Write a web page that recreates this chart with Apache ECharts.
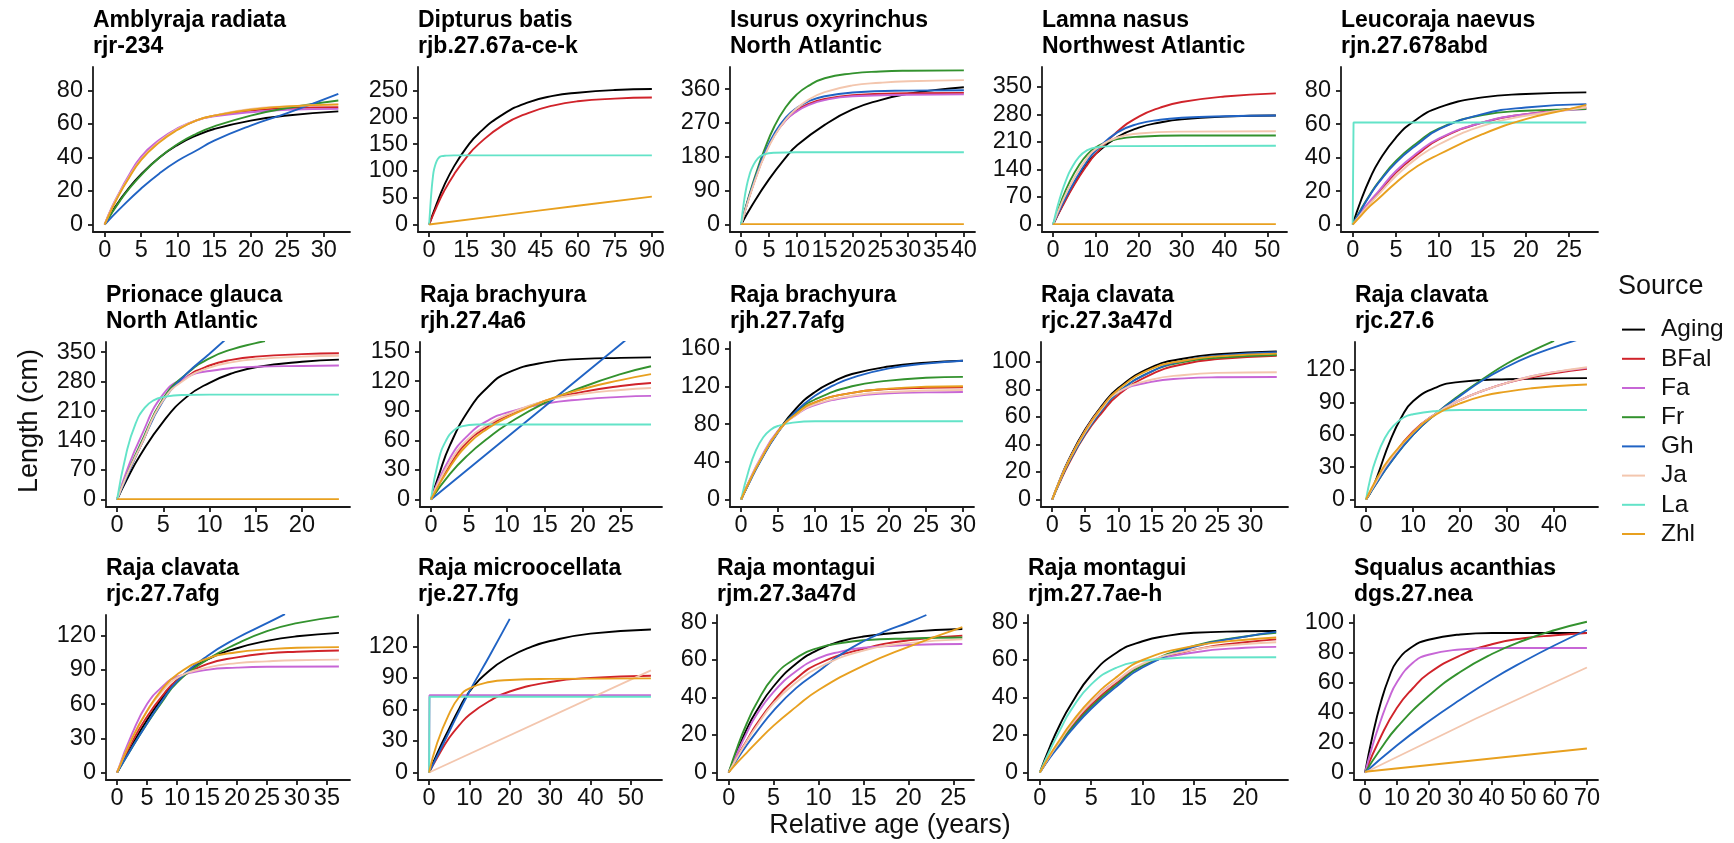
<!DOCTYPE html>
<html>
<head>
<meta charset="utf-8">
<script src="https://cdn.jsdelivr.net/npm/echarts@6.0.0/dist/echarts.min.js"></script>
<style>
  html, body { margin: 0; padding: 0; background: #fff; }
  #chart { width: 1734px; height: 843px; }
</style>
</head>
<body>
<div id="chart"></div>
<script>
// ---- Growth curves: [relative age (years), length (cm)] per stock and source ----

// Amblyraja radiata, rjr-234
const rjr234_Aging = [[0,0],[1,7.5],[2,14],[3,20],[5,30],[7.5,40],[10,47.5],[12.5,53],[15,57],[20,62],[25,65],[32,67.5]];
const rjr234_BFal  = [[0,0],[1,10],[2,18.5],[3,26],[5,40],[7.5,50],[10,57],[12.5,62],[15,65],[20,68],[25,69.5],[32,70]];
const rjr234_Fa    = [[0,0],[1,10.5],[2,19],[3,27],[5,40.5],[7.5,50.5],[10,57.5],[12.5,62],[15,64.5],[20,67],[25,68.5],[32,69]];
const rjr234_Fr    = [[0,0],[1,7],[2,13.5],[3,19.5],[5,29.5],[7.5,40],[10,48],[12.5,54],[15,58.5],[20,65],[25,69.5],[32,74]];
const rjr234_Gh    = [[0,0],[2,9],[5,21.5],[7.5,30.5],[10,38],[12.5,44],[15,50],[20,59],[25,66.5],[32,78]];
const rjr234_Ja    = [[0,0],[1,10],[2,18.5],[3,26],[5,39],[7.5,49.5],[10,57],[12.5,62],[15,65],[20,69],[25,70.5],[32,72]];
const rjr234_Zhl   = [[0,0],[1,9.5],[2,18],[3,25.5],[5,38.5],[7.5,49],[10,56.5],[12.5,62],[15,65],[20,68.5],[25,70.5],[32,71.5]];

// Dipturus batis, rjb.27.67a-ce-k
const rjb_Aging = [[0,0],[3,38],[6,72],[10,108],[15,143],[20,170],[30,206],[40,228],[50,240],[60,246],[75,251],[90,253]];
const rjb_BFal  = [[0,0],[3,33],[6,62],[10,93],[15,125],[20,150],[30,186],[40,208],[50,222],[60,230],[75,235],[90,237]];
const rjb_La    = [[0,0],[0.5,35],[1,65],[1.5,88],[2,103],[3,118],[4,125],[5,127.5],[7,128.5],[10,129],[90,129]];
const rjb_Zhl   = [[0,0],[30,17.5],[60,35],[90,52]];

// Isurus oxyrinchus, North Atlantic
const smaNA_Aging = [[0,0],[2,52],[5,120],[8,178],[10,210],[15,265],[20,306],[25,331],[30,348],[35,358],[40,365]];
const smaNA_BFal  = [[0,0],[1,52],[2,98],[3,140],[4,178],[6,238],[8,278],[10,303],[12,320],[15,334],[20,344],[30,349],[40,350]];
const smaNA_Fa    = [[0,0],[1,53],[2,100],[3,142],[4,180],[6,238],[8,277],[10,301],[12,317],[15,331],[20,341],[30,345],[40,346]];
const smaNA_Fr    = [[0,0],[1,55],[2,105],[3,150],[4,192],[6,262],[8,312],[10,346],[12,368],[15,389],[20,402],[25,407],[30,409],[40,410]];
const smaNA_Gh    = [[0,0],[1,52],[2,100],[3,143],[4,183],[6,243],[8,284],[10,310],[12,327],[15,341],[20,351],[30,356],[40,357]];
const smaNA_Ja    = [[0,0],[1,50],[2,96],[3,138],[4,176],[6,236],[8,279],[10,309],[12,331],[15,352],[20,370],[25,377],[30,381],[40,384]];
const smaNA_La    = [[0,0],[0.5,60],[1,103],[1.5,132],[2,152],[3,176],[4,186],[6,191],[10,192],[40,192]];
const smaNA_Zhl   = [[0,1],[40,1]];

// Lamna nasus, Northwest Atlantic
const porNWA_Aging = [[0,0],[2,45],[5,105],[8,155],[10,180],[15,222],[20,246],[25,259],[30,267],[40,274],[52,277]];
const porNWA_BFal  = [[0,0],[2,43],[5,102],[8,152],[10,180],[15,236],[20,274],[25,297],[30,311],[40,325],[52,333]];
const porNWA_Fr    = [[0,0],[2,62],[4,112],[6,150],[8,178],[10,196],[12,207],[15,217],[20,223],[30,226],[52,226]];
const porNWA_Gh    = [[0,0],[2,48],[5,110],[8,162],[10,188],[15,234],[20,256],[25,266],[30,271],[40,275],[52,277]];
const porNWA_Ja    = [[0,0],[2,55],[5,120],[8,170],[10,192],[15,221],[20,231],[30,236],[52,237]];
const porNWA_La    = [[0,0],[1,45],[2,82],[3,112],[4,137],[6,171],[8,189],[10,196],[15,199],[52,200]];
const porNWA_Zhl   = [[0,1],[52,1]];

// Leucoraja naevus, rjn.27.678abd
const rjn_Aging = [[0,0],[1,15],[2,27.5],[3,37.5],[5,52],[7,61.5],[10,70],[15,76],[20,78],[27,79]];
const rjn_BFal  = [[0,0],[1,7],[2,13],[3,19],[5,31],[7.5,42],[10,51],[15,61],[20,66],[27,70]];
const rjn_Fa    = [[0,0],[1,7.5],[2,14],[3,20],[5,32],[7.5,43],[10,51.5],[15,61],[20,66],[27,69]];
const rjn_Fr    = [[0,0],[1,9.5],[2,18],[3,25.5],[5,38],[7.5,49],[10,57.5],[15,65.5],[20,68],[27,69]];
const rjn_Gh    = [[0,0],[1,9],[2,17.5],[3,25],[5,37],[7.5,48],[10,57],[15,66],[20,70],[27,72]];
const rjn_Ja    = [[0,0],[1,6.5],[2,12.5],[3,18],[5,29],[7.5,40],[10,48],[15,59],[20,65],[27,70]];
const rjn_La    = [[0,0],[0.1,61],[27,61]];
const rjn_Zhl   = [[0,0],[1,5.5],[2,11],[3,15.5],[5,25],[7.5,35],[10,42],[15,54],[20,63],[25,69],[27,71.5]];

// Prionace glauca, North Atlantic
const bshNA_Aging = [[0,0],[1,45],[2.5,105],[5,185],[7.5,243],[10,277],[12.5,300],[15,314],[20,327],[24,332]];
const bshNA_BFal  = [[0,0],[1,55],[2.5,125],[5,238],[7.5,290],[10,318],[12.5,332],[15,339],[20,345],[24,347]];
const bshNA_Fa    = [[0,0],[1,65],[2.5,145],[5,250],[7.5,290],[10,305],[15,315],[20,317],[24,318]];
const bshNA_Fr    = [[0,0],[1,55],[2.5,130],[5,240],[7.5,298],[10,335],[12.5,357],[15,371],[16,376]];
const bshNA_Gh    = [[0,0],[1,52],[2.5,125],[5,235],[7.5,298],[10,346],[12,385]];
const bshNA_Ja    = [[0,0],[1,55],[2.5,125],[5,236],[7.5,287],[10,313],[12.5,326],[15,333],[20,339],[24,341]];
const bshNA_La    = [[0,0],[1,110],[2,180],[3,218],[4,236],[5,243],[7,248],[10,249],[24,249]];
const bshNA_Zhl   = [[0,1],[24,1]];

// Raja brachyura, rjh.27.4a6
const rjh4_Aging = [[0,0],[1,24],[2.5,55],[5,91],[7.5,114],[10,128],[15,139],[20,142.5],[25,143.5],[29,144]];
const rjh4_BFal  = [[0,0],[2.5,35],[5,60],[7.5,74],[10,85],[15,100],[20,109],[25,115],[29,118]];
const rjh4_Fa    = [[0,0],[2.5,42],[5,66],[7.5,80],[10,88],[15,97],[20,101.5],[25,104],[29,105]];
const rjh4_Fr    = [[0,0],[2.5,26],[5,46],[7.5,62],[10,76],[15,98],[20,114],[25,127],[29,135]];
const rjh4_Gh    = [[0,0],[12,75.5],[24,151],[27,170]];
const rjh4_Ja    = [[0,0],[2.5,38],[5,62],[7.5,76],[10,86],[15,100],[20,107],[25,111],[29,113]];
const rjh4_La    = [[0,0],[1,40],[2,60],[3,70],[4,74],[6,76],[10,76],[29,76]];
const rjh4_Zhl   = [[0,0],[2.5,33],[5,57],[7.5,72],[10,83],[15,100],[20,112],[25,121],[29,127]];

// Raja brachyura, rjh.27.7afg
const rjh7_Aging = [[0,0],[1,17],[2.5,40],[5,72],[7.5,97],[10,114],[12.5,125],[15,133],[20,141],[25,145],[30,147]];
const rjh7_BFal  = [[0,0],[1,17],[2.5,40],[5,72],[7.5,91],[10,103],[15,113],[20,117],[25,118.5],[30,119]];
const rjh7_Fa    = [[0,0],[1,18],[2.5,42],[5,73],[7.5,90],[10,100],[15,109],[20,112.5],[25,113.5],[30,114]];
const rjh7_Fr    = [[0,0],[1,17],[2.5,40],[5,72],[7.5,93],[10,106],[15,120],[20,126],[25,129],[30,130]];
const rjh7_Gh    = [[0,0],[1,16],[2.5,39],[5,71],[7.5,94],[10,110],[12.5,121],[15,129],[20,139],[25,144],[30,147]];
const rjh7_Ja    = [[0,0],[1,17.5],[2.5,41],[5,72],[7.5,90],[10,101],[15,110],[20,114],[30,116]];
const rjh7_La    = [[0,0],[1,30],[2,52],[3,66],[4,74],[5,78],[7,81.5],[10,83],[30,83]];
const rjh7_Zhl   = [[0,0],[1,17],[2.5,40],[5,72],[7.5,91],[10,103],[15,113],[20,117.5],[25,119.5],[30,120]];

// Raja clavata, rjc.27.3a47d
const rjc3_Aging = [[0,0],[1,12.5],[2.5,29],[5,51],[7.5,68],[10,81],[15,96],[20,102.5],[25,105.5],[34,107.5]];
const rjc3_BFal  = [[0,0],[1,11],[2.5,26],[5,47],[7.5,63],[10,76],[15,91],[20,98.5],[25,102],[34,104.5]];
const rjc3_Fa    = [[0,0],[1,12],[2.5,28],[5,50],[7.5,67],[10,78],[15,85.5],[20,88],[25,88.8],[34,89]];
const rjc3_Fr    = [[0,0],[1,11.5],[2.5,27],[5,48],[7.5,65],[10,78],[15,93],[20,100],[25,103],[34,105]];
const rjc3_Gh    = [[0,0],[1,11.5],[2.5,27],[5,48],[7.5,65],[10,78],[15,93],[20,101],[25,104.5],[34,107]];
const rjc3_Ja    = [[0,0],[1,12],[2.5,28],[5,49],[7.5,66],[10,78],[15,87],[20,90.5],[25,92],[34,92.5]];
const rjc3_Zhl   = [[0,0],[1,12],[2.5,28],[5,50],[7.5,67],[10,80],[15,95],[20,101],[25,104],[34,106]];

// Raja clavata, rjc.27.6
const rjc6_Aging = [[0,0],[1,7],[2,17],[3,29],[5,53],[7.5,76],[10,91],[15,104],[20,109],[30,111.5],[47,112.5]];
const rjc6_BFal  = [[0,0],[2.5,19],[5,36],[10,63],[15,80],[20,92],[25,101],[30,108],[35,113],[40,117],[47,121]];
const rjc6_Fa    = [[0,0],[2.5,19],[5,36],[10,62],[15,80],[20,92],[25,101],[30,108],[35,114],[40,118],[47,122]];
const rjc6_Fr    = [[0,0],[2.5,17],[5,33],[10,60],[15,80],[20,97],[25,112],[30,126],[35,137],[40,147]];
const rjc6_Gh    = [[0,0],[2.5,17],[5,33],[10,60],[15,80],[20,96],[25,111],[30,123],[35,133],[40,141],[45,148]];
const rjc6_Ja    = [[0,0],[2.5,19],[5,36],[10,62],[15,80],[20,92],[25,101],[30,108],[35,114],[40,118],[47,122.5]];
const rjc6_La    = [[0,0],[1,21],[2,36],[4,57],[6,69],[8,76],[10,79],[15,82],[20,83],[47,83]];
const rjc6_Zhl   = [[0,0],[2.5,21],[5,38],[10,62],[15,79],[20,89],[25,96],[30,100],[35,103],[40,105],[47,106.5]];

// Raja clavata, rjc.27.7afg
const rjc7_Aging = [[0,0],[2.5,24],[5,46],[7.5,65],[10,81],[15,99],[20,109],[25,115.5],[30,119.5],[37,122.5]];
const rjc7_BFal  = [[0,0],[2.5,27],[5,49],[7.5,67],[10,81],[15,95],[20,101],[25,104.5],[30,106],[37,107]];
const rjc7_Fa    = [[0,0],[2.5,34],[5,60],[7.5,75],[10,84],[15,90],[20,92],[25,92.8],[37,93]];
const rjc7_Fr    = [[0,0],[2.5,22],[5,43],[7.5,62],[10,79],[15,99],[20,113],[25,124],[30,131],[37,137]];
const rjc7_Gh    = [[0,0],[2.5,22],[5,43],[7.5,63],[10,80],[15,102],[20,118],[25,131],[28,139]];
const rjc7_Ja    = [[0,0],[2.5,30],[5,54],[7.5,71],[10,83],[15,92],[20,96],[25,97.5],[30,98.5],[37,99]];
const rjc7_Zhl   = [[0,0],[2.5,30],[5,54],[7.5,73],[10,86],[15,100],[20,105.5],[25,108],[30,109.5],[37,110]];

// Raja microocellata, rje.27.7fg
const rje_Aging = [[0,0],[2,18],[5,42],[7.5,61],[10,77],[15,97],[20,110],[25,119],[30,125],[40,132],[55,136]];
const rje_BFal  = [[0,0],[2,14],[5,33],[7.5,45],[10,55],[15,68],[20,77],[30,86],[40,90],[55,92]];
const rje_Fa    = [[0,0],[0.1,73.5],[55,73.5]];
const rje_Gh    = [[0,0],[5,39],[10,77],[15,111],[20,146]];
const rje_Ja    = [[0,0],[55,97]];
const rje_La    = [[0,0],[0.1,72],[55,72]];
const rje_Zhl   = [[0,0],[2,28],[5,56],[7.5,72],[10,80],[15,86],[20,88],[30,89],[55,89.5]];

// Raja montagui, rjm.27.3a47d
const rjm3_Aging = [[0,0],[1,12],[2,23],[3,32],[5,46],[7.5,58],[10,65.5],[12.5,70],[15,72.5],[20,75],[26,76.5]];
const rjm3_BFal  = [[0,0],[1,9],[2,17],[3,25],[5,38],[7.5,50],[10,58],[15,66],[20,70.5],[26,73]];
const rjm3_Fa    = [[0,0],[1,11],[2,21],[3,30],[5,43],[7.5,54],[10,61],[12.5,64.5],[15,66.5],[20,68],[26,68.5]];
const rjm3_Fr    = [[0,0],[1,14],[2,26],[3,36],[5,51],[7.5,61],[10,66.5],[12.5,69],[15,70.5],[20,71.5],[26,72]];
const rjm3_Gh    = [[0,0],[1,7.5],[2,14.5],[3,21],[5,33],[7.5,45],[10,54],[12.5,63],[15,70],[17.5,75.5],[20,80],[22,84]];
const rjm3_Ja    = [[0,0],[1,8.5],[2,16.5],[3,24],[5,37],[7.5,48],[10,56],[15,65],[20,69],[26,71]];
const rjm3_Zhl   = [[0,0],[1,5.5],[2,10.5],[3,15.5],[5,25],[7.5,35],[10,44],[15,57],[20,67],[26,77.5]];

// Raja montagui, rjm.27.7ae-h
const rjm7_Aging = [[0,0],[1,14],[2,26],[3,36],[5,52],[7.5,64],[10,70],[12.5,73],[15,74.5],[20,75.3],[23,75.5]];
const rjm7_BFal  = [[0,0],[1,8.5],[2,16.5],[3,24],[5,36],[7.5,48],[10,57],[15,65.5],[20,69.5],[23,71]];
const rjm7_Fa    = [[0,0],[1,9],[2,17],[3,25],[5,37.5],[7.5,49],[10,57.5],[15,64],[20,66.5],[23,67]];
const rjm7_Fr    = [[0,0],[1,8.5],[2,16],[3,23],[5,35],[7.5,47],[10,57],[15,67.5],[20,72.5],[23,74.5]];
const rjm7_Gh    = [[0,0],[1,8],[2,15],[3,22],[5,34],[7.5,46],[10,56],[15,67],[20,72.5],[23,75]];
const rjm7_Ja    = [[0,0],[1,9],[2,17],[3,25],[5,37.5],[7.5,49],[10,58],[15,65.5],[20,68.5],[23,69.5]];
const rjm7_La    = [[0,0],[1,12],[2,23],[3,33],[5,47],[7.5,56],[10,59.5],[12.5,60.8],[15,61.3],[23,61.5]];
const rjm7_Zhl   = [[0,0],[1,9.5],[2,18],[3,26],[5,39],[7.5,51],[10,60],[15,67.5],[20,70.8],[23,72]];

// Squalus acanthias, dgs.27.nea
const dgs_Aging = [[0,0],[2.5,26],[5,47],[7.5,63],[10,74],[15,84],[20,88.5],[30,92],[40,93],[70,93]];
const dgs_BFal  = [[0,0],[5,24],[10,43],[15,56],[20,66],[30,78],[40,85.5],[50,89.5],[60,91.5],[70,93]];
const dgs_Fa    = [[0,0],[2.5,19],[5,35],[7.5,49],[10,60],[15,73],[20,78.5],[30,82],[40,83],[70,83]];
const dgs_Fr    = [[0,0],[5,16],[10,30],[20,51],[30,67],[40,79],[50,88],[60,95],[70,100.5]];
const dgs_Gh    = [[0,0],[10,18],[20,34],[30,48.5],[40,62],[50,74],[60,85],[70,95]];
const dgs_Ja    = [[0,0],[35,36],[70,70]];
const dgs_Zhl   = [[0,0.5],[70,16]];

// ---- Sources (legend order) and their line colours ----
const sources = ['Aging', 'BFal', 'Fa', 'Fr', 'Gh', 'Ja', 'La', 'Zhl'];
const sourceColors = ['#000000', '#d0232a', '#c766d6', '#33922e', '#2063c4', '#f3c6ae', '#63e3c8', '#e8a01f'];

// ---- Panels: title, tick values, upper y extent, curves ----
const panels = [
  { title: 'Amblyraja radiata\nrjr-234', xTicks: [0,5,10,15,20,25,30], yTicks: [0,20,40,60,80], yTop: 89.5,
    curves: { Aging: rjr234_Aging, BFal: rjr234_BFal, Fa: rjr234_Fa, Fr: rjr234_Fr, Gh: rjr234_Gh, Ja: rjr234_Ja, Zhl: rjr234_Zhl } },
  { title: 'Dipturus batis\nrjb.27.67a-ce-k', xTicks: [0,15,30,45,60,75,90], yTicks: [0,50,100,150,200,250], yTop: 280,
    curves: { Aging: rjb_Aging, BFal: rjb_BFal, La: rjb_La, Zhl: rjb_Zhl } },
  { title: 'Isurus oxyrinchus\nNorth Atlantic', xTicks: [0,5,10,15,20,25,30,35,40], yTicks: [0,90,180,270,360], yTop: 399,
    curves: { Aging: smaNA_Aging, BFal: smaNA_BFal, Fa: smaNA_Fa, Fr: smaNA_Fr, Gh: smaNA_Gh, Ja: smaNA_Ja, La: smaNA_La, Zhl: smaNA_Zhl } },
  { title: 'Lamna nasus\nNorthwest Atlantic', xTicks: [0,10,20,30,40,50], yTicks: [0,70,140,210,280,350], yTop: 381,
    curves: { Aging: porNWA_Aging, BFal: porNWA_BFal, Fr: porNWA_Fr, Gh: porNWA_Gh, Ja: porNWA_Ja, La: porNWA_La, Zhl: porNWA_Zhl } },
  { title: 'Leucoraja naevus\nrjn.27.678abd', xTicks: [0,5,10,15,20,25], yTicks: [0,20,40,60,80], yTop: 89.7,
    curves: { Aging: rjn_Aging, BFal: rjn_BFal, Fa: rjn_Fa, Fr: rjn_Fr, Gh: rjn_Gh, Ja: rjn_Ja, La: rjn_La, Zhl: rjn_Zhl } },

  { title: 'Prionace glauca\nNorth Atlantic', xTicks: [0,5,10,15,20], yTicks: [0,70,140,210,280,350], yTop: 356,
    curves: { Aging: bshNA_Aging, BFal: bshNA_BFal, Fa: bshNA_Fa, Fr: bshNA_Fr, Gh: bshNA_Gh, Ja: bshNA_Ja, La: bshNA_La, Zhl: bshNA_Zhl } },
  { title: 'Raja brachyura\nrjh.27.4a6', xTicks: [0,5,10,15,20,25], yTicks: [0,30,60,90,120,150], yTop: 152,
    curves: { Aging: rjh4_Aging, BFal: rjh4_BFal, Fa: rjh4_Fa, Fr: rjh4_Fr, Gh: rjh4_Gh, Ja: rjh4_Ja, La: rjh4_La, Zhl: rjh4_Zhl } },
  { title: 'Raja brachyura\nrjh.27.7afg', xTicks: [0,5,10,15,20,25,30], yTicks: [0,40,80,120,160], yTop: 159,
    curves: { Aging: rjh7_Aging, BFal: rjh7_BFal, Fa: rjh7_Fa, Fr: rjh7_Fr, Gh: rjh7_Gh, Ja: rjh7_Ja, La: rjh7_La, Zhl: rjh7_Zhl } },
  { title: 'Raja clavata\nrjc.27.3a47d', xTicks: [0,5,10,15,20,25,30], yTicks: [0,20,40,60,80,100], yTop: 109,
    curves: { Aging: rjc3_Aging, BFal: rjc3_BFal, Fa: rjc3_Fa, Fr: rjc3_Fr, Gh: rjc3_Gh, Ja: rjc3_Ja, Zhl: rjc3_Zhl } },
  { title: 'Raja clavata\nrjc.27.6', xTicks: [0,10,20,30,40], yTicks: [0,30,60,90,120], yTop: 139,
    curves: { Aging: rjc6_Aging, BFal: rjc6_BFal, Fa: rjc6_Fa, Fr: rjc6_Fr, Gh: rjc6_Gh, Ja: rjc6_Ja, La: rjc6_La, Zhl: rjc6_Zhl } },

  { title: 'Raja clavata\nrjc.27.7afg', xTicks: [0,5,10,15,20,25,30,35], yTicks: [0,30,60,90,120], yTop: 131.6,
    curves: { Aging: rjc7_Aging, BFal: rjc7_BFal, Fa: rjc7_Fa, Fr: rjc7_Fr, Gh: rjc7_Gh, Ja: rjc7_Ja, Zhl: rjc7_Zhl } },
  { title: 'Raja microocellata\nrje.27.7fg', xTicks: [0,10,20,30,40,50], yTicks: [0,30,60,90,120], yTop: 142.6,
    curves: { Aging: rje_Aging, BFal: rje_BFal, Fa: rje_Fa, Gh: rje_Gh, Ja: rje_Ja, La: rje_La, Zhl: rje_Zhl } },
  { title: 'Raja montagui\nrjm.27.3a47d', xTicks: [0,5,10,15,20,25], yTicks: [0,20,40,60,80], yTop: 80,
    curves: { Aging: rjm3_Aging, BFal: rjm3_BFal, Fa: rjm3_Fa, Fr: rjm3_Fr, Gh: rjm3_Gh, Ja: rjm3_Ja, Zhl: rjm3_Zhl } },
  { title: 'Raja montagui\nrjm.27.7ae-h', xTicks: [0,5,10,15,20], yTicks: [0,20,40,60,80], yTop: 80,
    curves: { Aging: rjm7_Aging, BFal: rjm7_BFal, Fa: rjm7_Fa, Fr: rjm7_Fr, Gh: rjm7_Gh, Ja: rjm7_Ja, La: rjm7_La, Zhl: rjm7_Zhl } },
  { title: 'Squalus acanthias\ndgs.27.nea', xTicks: [0,10,20,30,40,50,60,70], yTicks: [0,20,40,60,80,100], yTop: 100,
    curves: { Aging: dgs_Aging, BFal: dgs_BFal, Fa: dgs_Fa, Fr: dgs_Fr, Gh: dgs_Gh, Ja: dgs_Ja, Zhl: dgs_Zhl } }
];

// ---- Layout (pixels) ----
const rowTops = [67, 342, 615];
const rowHeight = 165;
const colSpans = [
  [[93, 350], [418, 663], [730, 975], [1042, 1287], [1341, 1598]],
  [[106, 350], [420, 662], [730, 974], [1041, 1288], [1355, 1598]],
  [[106, 350], [418, 662], [717, 974], [1028, 1288], [1354, 1598]]
];

const FONT = '"Liberation Sans", Arial, Helvetica, sans-serif';
const INK = '#111111';
const axisStroke = { color: '#1a1a1a', width: 1.8 };
const TICK_FONT = 23.5;

const grids = [], xAxes = [], yAxes = [], titles = [], seriesList = [];

panels.forEach((p, i) => {
  const row = Math.floor(i / 5), col = i % 5;
  const [x0, x1] = colSpans[row][col];
  const top = rowTops[row];
  grids.push({ left: x0, top: top, width: x1 - x0, height: rowHeight, containLabel: false });

  // x extent: data range padded by 5% on both sides
  let xEnd = 0;
  Object.values(p.curves).forEach(d => { xEnd = Math.max(xEnd, d[d.length - 1][0]); });

  xAxes.push({
    type: 'value', gridIndex: i,
    min: -0.05 * xEnd, max: 1.05 * xEnd,
    axisLine: { show: true, onZero: false, lineStyle: axisStroke },
    axisTick: { show: true, length: 5, customValues: p.xTicks, lineStyle: axisStroke },
    axisLabel: { customValues: p.xTicks, margin: 7, fontSize: TICK_FONT, color: INK, fontFamily: FONT },
    splitLine: { show: false }
  });
  yAxes.push({
    type: 'value', gridIndex: i,
    min: -0.05 * p.yTop, max: 1.05 * p.yTop,
    axisLine: { show: true, onZero: false, lineStyle: axisStroke },
    axisTick: { show: true, length: 5, customValues: p.yTicks, lineStyle: axisStroke },
    axisLabel: { customValues: p.yTicks, margin: 10, fontSize: TICK_FONT, color: INK, fontFamily: FONT },
    splitLine: { show: false }
  });

  titles.push({
    text: p.title, left: x0, top: top - 59, padding: 0,
    textStyle: { fontFamily: FONT, fontSize: 23, fontWeight: 'bold', color: '#000', lineHeight: 25.5 }
  });

  sources.forEach((s, k) => {
    const d = p.curves[s];
    if (!d) return;
    seriesList.push({
      type: 'line', name: s, xAxisIndex: i, yAxisIndex: i,
      data: d, symbol: 'none', showSymbol: false,
      smooth: d.length > 3 ? 0.5 : false,
      color: sourceColors[k],
      lineStyle: { color: sourceColors[k], width: 1.9 },
      itemStyle: { color: sourceColors[k] },
      clip: true, silent: true, animation: false
    });
  });
});

// Legend heading
titles.push({
  text: 'Source', left: 1618, top: 272, padding: 0,
  textStyle: { fontFamily: FONT, fontSize: 27, fontWeight: 'normal', color: INK, lineHeight: 30 }
});

const chart = echarts.init(document.getElementById('chart'), null, { renderer: 'canvas' });
chart.setOption({
  backgroundColor: '#ffffff',
  animation: false,
  title: titles,
  grid: grids,
  xAxis: xAxes,
  yAxis: yAxes,
  legend: {
    data: sources,
    orient: 'vertical', left: 1622, top: 315, padding: 0,
    icon: 'rect', itemWidth: 23, itemHeight: 2, itemGap: 0,
    selectedMode: false,
    textStyle: { fontFamily: FONT, fontSize: 24.5, color: INK, lineHeight: 29.2, padding: [0, 0, 0, 11] }
  },
  graphic: [
    { type: 'text', x: 30, y: 421, rotation: Math.PI / 2,
      style: { text: 'Length (cm)', font: '27px ' + FONT, fill: INK, align: 'center', verticalAlign: 'middle' } },
    { type: 'text', x: 890, y: 826,
      style: { text: 'Relative age (years)', font: '27px ' + FONT, fill: INK, align: 'center', verticalAlign: 'middle' } }
  ],
  series: seriesList
});
</script>
</body>
</html>
